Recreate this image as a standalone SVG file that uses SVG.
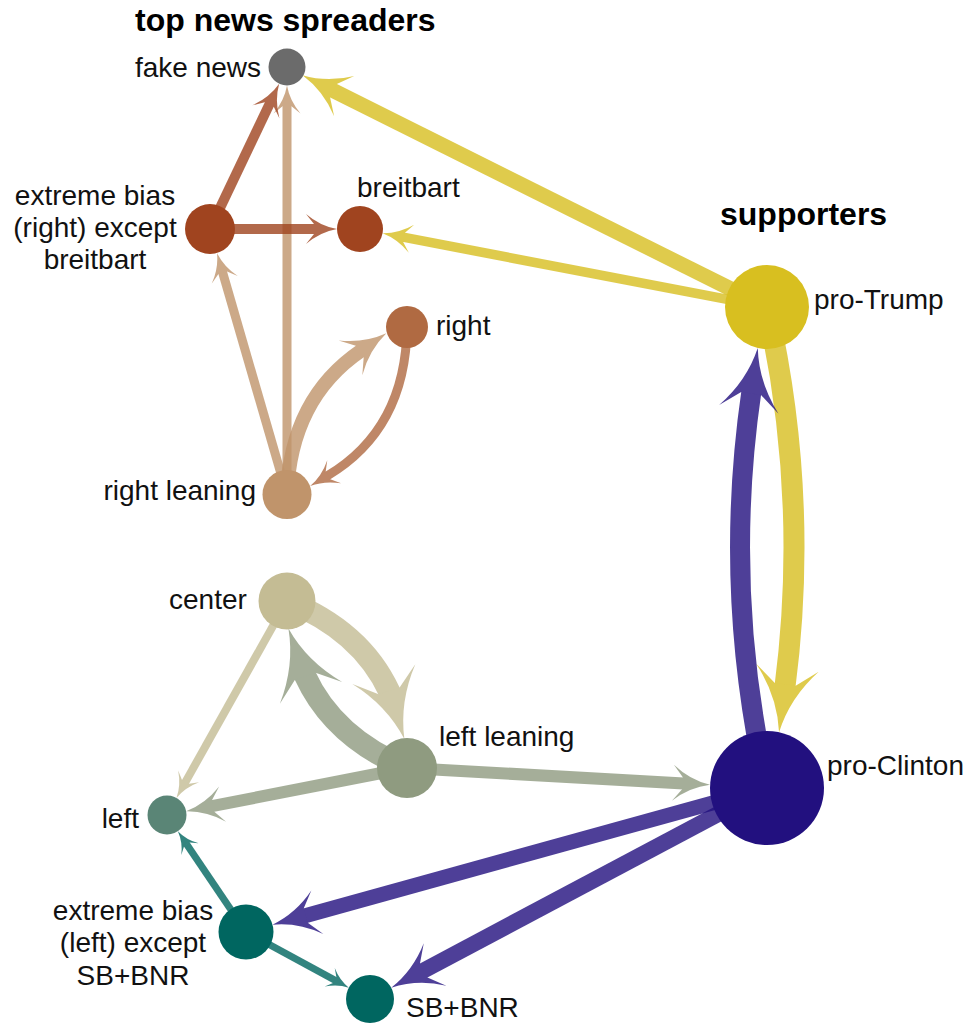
<svg xmlns="http://www.w3.org/2000/svg" width="971" height="1026" viewBox="0 0 971 1026">
<style>
.e{fill:none;opacity:.8}
.y{stroke:#d8bf20}.p{stroke:#22107f}.g{stroke:#8f9b80}.b{stroke:#c4bc94}.t{stroke:#006660}.tn{stroke:#c0946b}.br{stroke:#b06a42}.r{stroke:#a0441f}
text{font-family:"Liberation Sans",Arial,Helvetica,sans-serif;font-size:28px;fill:#111}
.h{font-weight:bold;font-size:32px;fill:#000}
.c{text-anchor:middle}.end{text-anchor:end}
</style>
<defs>
<path id="ah" d="M0,0Q-1.7,-0.3 -3.1,-1.5L-2.3,-0.5L-2.3,0.5L-3.1,1.5Q-1.7,0.3 0,0Z"/>
<marker id="my" viewBox="-3.2 -1.6 3.3 3.2" markerWidth="3.3" markerHeight="3.2" refX="-2.2" refY="0" orient="auto" overflow="visible"><use href="#ah" fill="#d8bf20"/></marker>
<marker id="mp" viewBox="-3.2 -1.6 3.3 3.2" markerWidth="3.3" markerHeight="3.2" refX="-2.2" refY="0" orient="auto" overflow="visible"><use href="#ah" fill="#22107f"/></marker>
<marker id="mg" viewBox="-3.2 -1.6 3.3 3.2" markerWidth="3.3" markerHeight="3.2" refX="-2.2" refY="0" orient="auto" overflow="visible"><use href="#ah" fill="#8f9b80"/></marker>
<marker id="mb" viewBox="-3.2 -1.6 3.3 3.2" markerWidth="3.3" markerHeight="3.2" refX="-2.2" refY="0" orient="auto" overflow="visible"><use href="#ah" fill="#c4bc94"/></marker>
<marker id="mt" viewBox="-3.2 -1.6 3.3 3.2" markerWidth="3.3" markerHeight="3.2" refX="-2.2" refY="0" orient="auto" overflow="visible"><use href="#ah" fill="#006660"/></marker>
<marker id="mtn" viewBox="-3.2 -1.6 3.3 3.2" markerWidth="3.3" markerHeight="3.2" refX="-2.2" refY="0" orient="auto" overflow="visible"><use href="#ah" fill="#c0946b"/></marker>
<marker id="mbr" viewBox="-3.2 -1.6 3.3 3.2" markerWidth="3.3" markerHeight="3.2" refX="-2.2" refY="0" orient="auto" overflow="visible"><use href="#ah" fill="#b06a42"/></marker>
<marker id="mr" viewBox="-3.2 -1.6 3.3 3.2" markerWidth="3.3" markerHeight="3.2" refX="-2.2" refY="0" orient="auto" overflow="visible"><use href="#ah" fill="#a0441f"/></marker>
</defs>
<rect width="971" height="1026" fill="#fff"/>
<text class="h" x="135" y="31">top news spreaders</text>
<text class="h" x="720" y="225">supporters</text>
<g id="connectors">
<path class="e y" stroke-width="15" marker-end="url(#my)" d="M767,307L332.1,90"/>
<path class="e y" stroke-width="9.5" marker-end="url(#my)" d="M767,307L403.1,237.2"/>
<path class="e y" stroke-width="21" marker-end="url(#my)" d="M767,307Q809.6,496.4 785,686.5"/>
<path class="e p" stroke-width="20" marker-end="url(#mp)" d="M767,788Q722.5,589.8 751.4,391.5"/>
<path class="e p" stroke-width="15" marker-end="url(#mp)" d="M767,788L304.3,915.9"/>
<path class="e p" stroke-width="16" marker-end="url(#mp)" d="M767,788L422.3,971.2"/>
<path class="e g" stroke-width="12" marker-end="url(#mg)" d="M407,768L683.7,783.4"/>
<path class="e g" stroke-width="12" marker-end="url(#mg)" d="M407,768L212,806.2"/>
<path class="e g" stroke-width="22" marker-end="url(#mg)" d="M407,768Q333.5,737.8 304.8,675.2l-0.33,-0.94"/>
<path class="e b" stroke-width="22" marker-end="url(#mb)" d="M287,601Q360.8,630.3 389.5,692l0.3,0.95"/>
<path class="e b" stroke-width="8" marker-end="url(#mb)" d="M287,601L185.1,782.6"/>
<path class="e t" stroke-width="7" marker-end="url(#mt)" d="M246,932L186.5,844"/>
<path class="e t" stroke-width="7" marker-end="url(#mt)" d="M246,932L335.3,980.3"/>
<path class="e tn" stroke-width="9" marker-end="url(#mtn)" d="M287,494.5L222.5,272"/>
<path class="e tn" stroke-width="9" marker-end="url(#mtn)" d="M287,494.5L287,105.3"/>
<path class="e tn" stroke-width="14" marker-end="url(#mtn)" d="M287,494.5Q290.6,398.7 360.9,350.7"/>
<path class="e br" stroke-width="9" marker-end="url(#mbr)" d="M407,327Q405.8,429.2 327.2,475.9"/>
<path class="e r" stroke-width="10" marker-end="url(#mr)" d="M210,229L269.7,103.6"/>
<path class="e r" stroke-width="10" marker-end="url(#mr)" d="M210,229L315,229"/>
</g>
<g id="n-fake-news"><circle cx="287" cy="67" r="18.5" fill="#6b6b6b"/><text class="end" x="261" y="77">fake news</text></g>
<g id="n-extreme-right"><circle cx="210" cy="229" r="25" fill="#a0441f"/><text class="c" x="95" y="205">extreme bias</text><text class="c" x="95" y="237">(right) except</text><text class="c" x="95" y="269">breitbart</text></g>
<g id="n-breitbart"><circle cx="360" cy="229" r="23" fill="#a0441f"/><text x="357" y="197">breitbart</text></g>
<g id="n-right"><circle cx="407" cy="327" r="21" fill="#b06a42"/><text x="436" y="335">right</text></g>
<g id="n-right-leaning"><circle cx="287" cy="494.5" r="24.5" fill="#c0946b"/><text class="end" x="256" y="500">right leaning</text></g>
<g id="n-center"><circle cx="287" cy="601" r="28.5" fill="#c4bc94"/><text x="169" y="609">center</text></g>
<g id="n-left-leaning"><circle cx="407" cy="768" r="30" fill="#8f9b80"/><text x="439" y="746">left leaning</text></g>
<g id="n-left"><circle cx="167" cy="815" r="19.5" fill="#5a8576"/><text class="end" x="139" y="828">left</text></g>
<g id="n-extreme-left"><circle cx="246" cy="932" r="27.5" fill="#006660"/><text class="c" x="133" y="920">extreme bias</text><text class="c" x="133" y="952">(left) except</text><text class="c" x="133" y="985">SB+BNR</text></g>
<g id="n-sb-bnr"><circle cx="370" cy="999" r="24" fill="#006660"/><text x="406" y="1017">SB+BNR</text></g>
<g id="n-pro-trump"><circle cx="767" cy="307" r="42" fill="#d8bf20"/><text x="814" y="309">pro-Trump</text></g>
<g id="n-pro-clinton"><circle cx="767" cy="788" r="57" fill="#22107f"/><text x="827" y="775">pro-Clinton</text></g>
</svg>
